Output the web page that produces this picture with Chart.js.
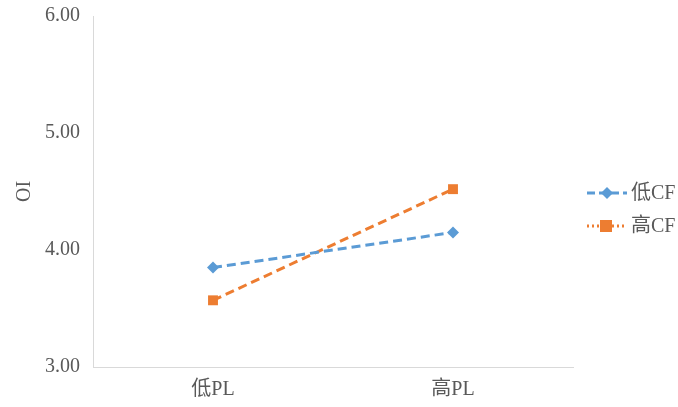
<!DOCTYPE html>
<html>
<head>
<meta charset="utf-8">
<script src="https://cdn.jsdelivr.net/npm/chart.js@4/dist/chart.umd.min.js"></script>
<style>
  body { margin: 0; background: #fff; }
  #wrap { width: 678px; height: 407px; }
</style>
</head>
<body>
<div id="wrap"><canvas id="oiChart"></canvas></div>
<script>
// data
var categories = ['低PL', '高PL'];
var lowCF = [3.85, 4.15];
var highCF = [3.57, 4.52];
var seriesNames = ['低CF', '高CF'];
var yTicks = [3, 4, 5, 6];

var BLUE = '#5B9BD5';
var ORANGE = '#ED7D31';
var SERIF = "'Liberation Serif', 'Times New Roman', 'Noto Sans CJK SC', serif";

// legend drawn by hand so the line style shows next to the marker
var sideLegend = {
    id: 'sideLegend',
    afterDraw: function (chart) {
        var c = chart.ctx;
        var items = [
            { name: seriesNames[0], color: BLUE, dash: [8, 4], y: 193, marker: 'diamond' },
            { name: seriesNames[1], color: ORANGE, dash: [2, 3], y: 226, marker: 'square' }
        ];
        items.forEach(function (it) {
            c.save();
            c.strokeStyle = it.color;
            c.lineWidth = 3;
            c.setLineDash(it.dash);
            c.beginPath();
            c.moveTo(587, it.y);
            c.lineTo(627, it.y);
            c.stroke();
            c.setLineDash([]);
            c.fillStyle = it.color;
            c.beginPath();
            if (it.marker === 'diamond') {
                c.moveTo(607, it.y - 6);
                c.lineTo(613, it.y);
                c.lineTo(607, it.y + 6);
                c.lineTo(601, it.y);
            } else {
                c.rect(600, it.y - 6, 12, 12);
            }
            c.closePath();
            c.fill();
            c.fillStyle = '#595959';
            c.font = "20px " + SERIF;
            c.textBaseline = 'middle';
            c.fillText(it.name, 631, it.y + 1);
            c.restore();
        });
    }
};

var ctx = document.getElementById('oiChart').getContext('2d');
var chart = new Chart(ctx, {
    type: 'line',
    data: {
        labels: categories,
        datasets: [{
            label: seriesNames[0],
            data: lowCF,
            borderColor: BLUE,
            backgroundColor: BLUE,
            borderWidth: 3,
            borderDash: [9, 5],
            pointStyle: 'rectRot',
            pointRadius: 6,
            pointHoverRadius: 6,
            pointBorderWidth: 0,
            fill: false
        }, {
            label: seriesNames[1],
            data: highCF,
            borderColor: ORANGE,
            backgroundColor: ORANGE,
            borderWidth: 3,
            borderDash: [9, 5],
            pointStyle: 'rect',
            pointRadius: 7,
            pointHoverRadius: 7,
            pointBorderWidth: 0,
            fill: false
        }]
    },
    options: {
        responsive: true,
        maintainAspectRatio: false,
        animation: false,
        layout: { padding: { top: 16, right: 105, left: 0, bottom: 0 } },
        plugins: {
            legend: { display: false },
            tooltip: { enabled: false }
        },
        scales: {
            x: {
                offset: true,
                grid: { display: false, drawTicks: false },
                border: { display: true, color: '#D9D9D9', width: 1 },
                ticks: { color: '#595959', font: { family: SERIF, size: 20 }, padding: 11 },
                afterFit: function (s) { s.height = 40; }
            },
            y: {
                min: 3,
                max: 6,
                afterBuildTicks: function (s) {
                    s.ticks = yTicks.map(function (v) { return { value: v }; });
                },
                grid: { display: false, drawTicks: false },
                border: { display: true, color: '#D9D9D9', width: 1 },
                ticks: {
                    color: '#595959',
                    font: { family: SERIF, size: 20 },
                    padding: 13,
                    callback: function (v) { return Number(v).toFixed(2); }
                },
                title: {
                    display: true,
                    text: 'OI',
                    color: '#595959',
                    font: { family: SERIF, size: 20 },
                    padding: { top: 13, bottom: 0 }
                },
                afterFit: function (s) {
                    s.width = 93;
                    s.paddingTop = 0;
                    s.paddingBottom = 0;
                }
            }
        }
    },
    plugins: [sideLegend]
});
</script>
</body>
</html>
